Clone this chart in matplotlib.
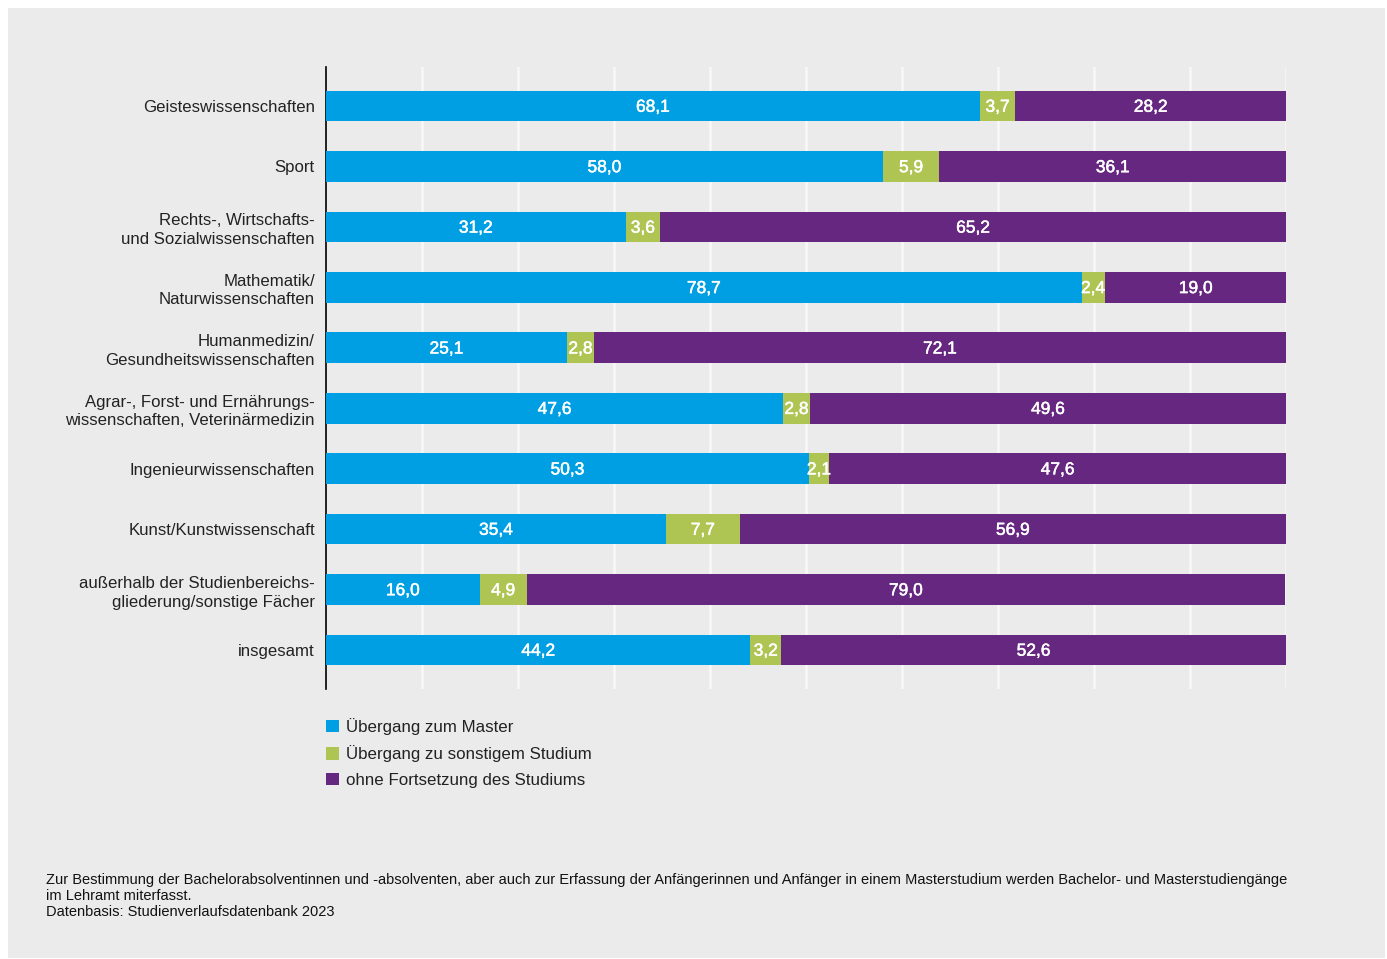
import numpy as np
import matplotlib.pyplot as plt
import matplotlib.patheffects as pe
from matplotlib.patches import Patch, Rectangle

plt.rcParams['font.family'] = ['Liberation Sans', 'DejaVu Sans']

categories = ["Geisteswissenschaften", "Sport",
              "Rechts-, Wirtschafts-\nund Sozialwissenschaften",
              "Mathematik/\nNaturwissenschaften",
              "Humanmedizin/\nGesundheitswissenschaften",
              "Agrar-, Forst- und Ernährungs-\nwissenschaften, Veterinärmedizin",
              "Ingenieurwissenschaften", "Kunst/Kunstwissenschaft",
              "außerhalb der Studienbereichs-\ngliederung/sonstige Fächer",
              "insgesamt"]
master = [68.1, 58.0, 31.2, 78.7, 25.1, 47.6, 50.3, 35.4, 16.0, 44.2]
sonstiges = [3.7, 5.9, 3.6, 2.4, 2.8, 2.8, 2.1, 7.7, 4.9, 3.2]
ohne = [28.2, 36.1, 65.2, 19.0, 72.1, 49.6, 47.6, 56.9, 79.0, 52.6]
series_names = ["Übergang zum Master", "Übergang zu sonstigem Studium",
                "ohne Fortsetzung des Studiums"]
colors = ["#009fe3", "#afc553", "#662780"]

W, H = 1387, 959
fig = plt.figure(figsize=(W / 100, H / 100), dpi=100, facecolor="white")
bg = "#ebebeb"
fig.patches.append(Rectangle((8 / W, 1 - 958 / H), (1385 - 8) / W, (958 - 8) / H,
                             transform=fig.transFigure, facecolor=bg,
                             edgecolor="none", zorder=-5))

ax = fig.add_axes([326 / W, 1 - 689 / H, (1286 - 326) / W, (689 - 67) / H])
ax.set_facecolor(bg)
ax.set_zorder(2)

# white values look medium weight in the original, so thicken them a bit
bold_fx = [pe.withStroke(linewidth=0.35, foreground="white")]
y = np.arange(len(categories))
left = np.zeros(len(categories))
for vals, col, name in zip([master, sonstiges, ohne], colors, series_names):
    vals = np.array(vals)
    bars = ax.barh(y, vals, left=left, height=0.51, color=col, label=name, zorder=3)
    for b, v in zip(bars, vals):
        ax.text(b.get_x() + b.get_width() / 2, b.get_y() + b.get_height() / 2 + 0.02,
                f"{v:.1f}".replace(".", ","), ha="center", va="center",
                color="white", fontsize=12.5, zorder=4, path_effects=bold_fx)
    left += vals

ax.set_xlim(0, 100)
ax.set_ylim(len(categories) - 0.354, -0.646)
ax.set_xticks(np.arange(10, 101, 10))
ax.set_xticklabels([])
ax.tick_params(length=0)
ax.grid(axis="x", color="#f8f8f8", linewidth=1.8, zorder=0)
ax.set_yticks(y)
ax.set_yticklabels(categories, fontsize=12.1, color="#222222", linespacing=1.3)
for s in ["top", "right", "bottom"]:
    ax.spines[s].set_visible(False)
ax.spines["left"].set_color("black")
ax.spines["left"].set_linewidth(1.2)
ax.tick_params(axis="y", pad=8)

handles = [Patch(facecolor=c, edgecolor="none") for c in colors]
fig.legend(handles, series_names, loc="upper left",
           bbox_to_anchor=(326 / W, 1 - 718 / H), frameon=False,
           fontsize=12.2, handlelength=0.75, handleheight=0.75,
           handletextpad=0.45, labelspacing=0.62, borderpad=0,
           borderaxespad=0, labelcolor="#222222")

note = ("Zur Bestimmung der Bachelorabsolventinnen und -absolventen, aber auch zur Erfassung der "
        "Anfängerinnen und Anfänger in einem Masterstudium werden Bachelor- und Masterstudiengänge\n"
        "im Lehramt miterfasst.\nDatenbasis: Studienverlaufsdatenbank 2023")
fig.text(46 / W, 1 - 873 / H, note, ha="left", va="top", fontsize=10.55,
         color="#111111", linespacing=1.2)

fig.savefig("out.png", dpi=100, facecolor="white")
